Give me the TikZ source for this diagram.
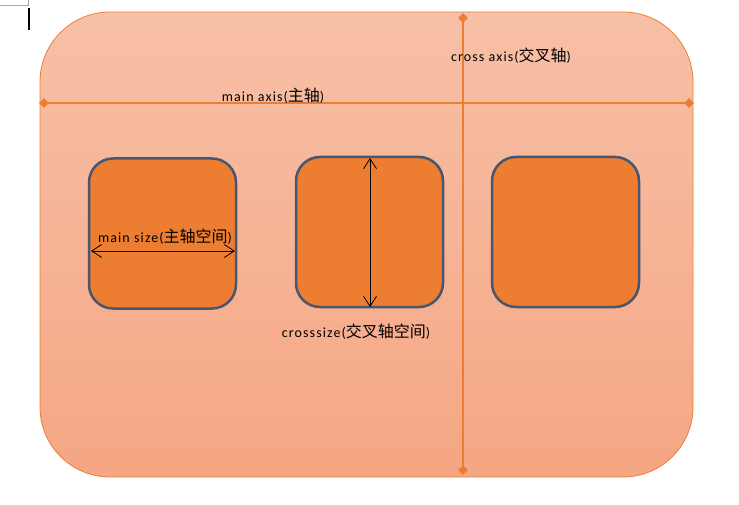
\documentclass[tikz,border=0pt]{standalone}
\usepackage{fontspec}
\setmainfont{Carlito}[LetterSpace=8]
\newfontfamily\cjkfont{Noto Sans CJK SC}
\newcommand{\zh}[1]{{\cjkfont\fontsize{16pt}{18pt}\selectfont #1}}
\usetikzlibrary{shapes.geometric,arrows.meta}
\definecolor{orangeA}{RGB}{237,125,49}
\definecolor{topfill}{RGB}{247,192,167}
\definecolor{botfill}{RGB}{245,166,131}
\definecolor{boxedge}{RGB}{72,87,112}
\begin{document}
\begin{tikzpicture}[x=1pt,y=-1pt,
  container/.style={draw=orangeA,line width=0.8pt,top color=topfill,bottom color=botfill,
    rectangle,rounded corners=70pt,minimum width=653pt,minimum height=465pt,inner sep=0pt},
  flexitem/.style={draw=boxedge,fill=orangeA,line width=2.5pt,rectangle,rounded corners=24pt,
    minimum width=147pt,minimum height=150pt,inner sep=0pt},
  dia/.style={diamond,fill=orangeA,inner sep=0pt,minimum size=10pt},
  axisline/.style={draw=orangeA,line width=2pt},
  sizearrow/.style={draw=black,line width=0.8pt,{Straight Barb[length=10pt,width=13pt]}-{Straight Barb[length=10pt,width=13pt]}},
  lbl/.style={font=\fontsize{14pt}{16pt}\selectfont,text=black,inner sep=0pt}]
\useasboundingbox (0,0) rectangle (739,505);
% page corner mark and cursor
\draw[gray!70,line width=0.8pt] (0,5) -- (28,5) -- (28,0);
\draw[black,line width=2pt] (29,8) -- (29,30);
% container
\node[container] (frame) at (366.5,244.5) {};
% items
\node[flexitem] (item1) at (162.5,233.5) {};
\node[flexitem] (item2) at (369.5,232) {};
\node[flexitem] (item3) at (565.5,232) {};
% main axis
\node[dia] (ma1) at (44,103) {};
\node[dia] (ma2) at (689,103) {};
\draw[axisline] (ma1.center) -- (ma2.center);
% cross axis
\node[dia] (ca1) at (463,18) {};
\node[dia] (ca2) at (463,470) {};
\draw[axisline] (ca1.center) -- (ca2.center);
% size arrows
\coordinate (ms1) at (91,251);
\coordinate (ms2) at (235,251);
\draw[sizearrow] (ms1) -- (ms2);
\coordinate (cs1) at (370,158);
\coordinate (cs2) at (370,307);
\draw[sizearrow] (cs1) -- (cs2);
% labels
\node[lbl] (malbl) at (273,96) {main axis(\zh{主轴})};
\node[lbl] (calbl) at (511,56) {cross axis(\zh{交叉轴})};
\node[lbl] (mslbl) at (165,237) {main size(\zh{主轴空间})};
\node[lbl] (cslbl) at (356,332) {crosssize(\zh{交叉轴空间})};
\end{tikzpicture}
\end{document}
